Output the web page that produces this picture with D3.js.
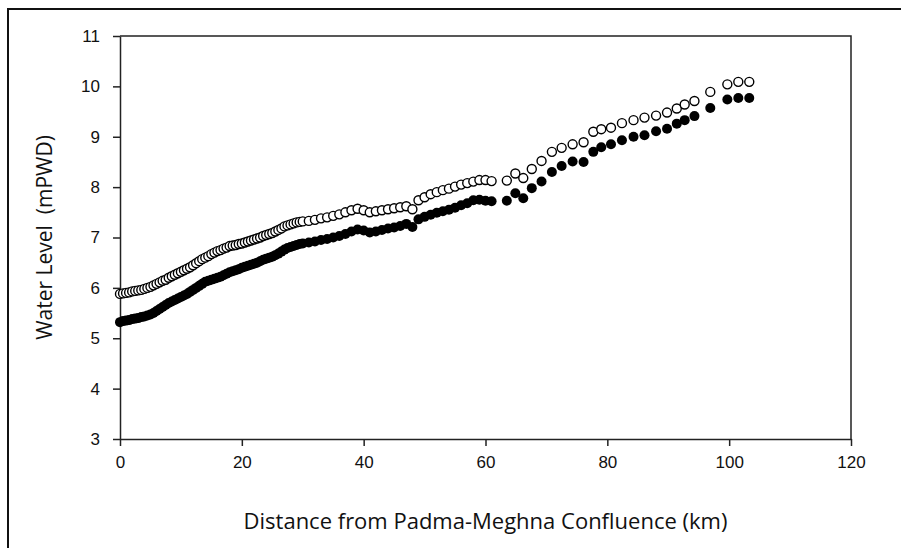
<!DOCTYPE html>
<html>
<head>
<meta charset="utf-8">
<script src="https://cdn.jsdelivr.net/npm/d3@7"></script>
<style>
  body { margin: 0; background: #fff; }
  svg { display: block; font-family: "Open Sans", "Noto Sans", sans-serif; }
  .axis path, .axis line { stroke: #222; stroke-width: 1.5px; }
  .axis text { fill: #111; font-size: 17px; }
</style>
</head>
<body>
<svg width="901" height="548"></svg>
<script>
// distance from confluence (km), dense reach 0-61 km
var denseKm = [
  0, 0.5, 1, 1.5, 2, 2.5, 3, 3.5, 4, 4.5, 5, 5.5, 6, 6.5, 7, 7.5, 8, 8.5, 9, 9.5,
  10, 10.5, 11, 11.5, 12, 12.5, 13, 13.5, 14, 14.5, 15, 15.5, 16, 16.5, 17, 17.5, 18, 18.5, 19, 19.5,
  20, 20.5, 21, 21.5, 22, 22.5, 23, 23.5, 24, 24.5, 25, 25.5, 26, 26.5, 27, 27.5, 28, 28.5, 29, 29.5,
  30, 31, 32, 33, 34, 35, 36, 37, 38, 39, 40, 41, 42, 43, 44, 45, 46, 47, 48, 49,
  50, 51, 52, 53, 54, 55, 56, 57, 58, 59, 60, 61
];
var denseOpen = [
  5.88, 5.89, 5.90, 5.91, 5.93, 5.94, 5.95, 5.96, 5.98, 6.00, 6.02, 6.05, 6.08, 6.11, 6.14, 6.16, 6.20, 6.23, 6.26, 6.29,
  6.32, 6.35, 6.38, 6.41, 6.45, 6.49, 6.53, 6.57, 6.60, 6.63, 6.67, 6.70, 6.73, 6.75, 6.78, 6.80, 6.83, 6.84, 6.85, 6.87,
  6.88, 6.90, 6.92, 6.94, 6.96, 6.98, 7.00, 7.03, 7.05, 7.07, 7.09, 7.12, 7.15, 7.18, 7.22, 7.24, 7.26, 7.28, 7.30, 7.31,
  7.32, 7.33, 7.35, 7.38, 7.40, 7.43, 7.46, 7.50, 7.54, 7.57, 7.54, 7.50, 7.52, 7.54, 7.56, 7.58, 7.60, 7.62, 7.56, 7.74,
  7.80, 7.86, 7.90, 7.94, 7.97, 8.01, 8.05, 8.08, 8.11, 8.14, 8.14, 8.12
];
var denseFilled = [
  5.32, 5.34, 5.35, 5.36, 5.38, 5.39, 5.40, 5.42, 5.43, 5.45, 5.47, 5.50, 5.54, 5.58, 5.62, 5.66, 5.70, 5.73, 5.76, 5.79,
  5.82, 5.85, 5.88, 5.92, 5.96, 6.00, 6.04, 6.08, 6.12, 6.14, 6.16, 6.18, 6.20, 6.22, 6.25, 6.28, 6.31, 6.33, 6.35, 6.37,
  6.40, 6.42, 6.44, 6.46, 6.48, 6.50, 6.53, 6.56, 6.58, 6.60, 6.62, 6.65, 6.68, 6.72, 6.76, 6.79, 6.81, 6.83, 6.85, 6.87,
  6.88, 6.90, 6.92, 6.95, 6.97, 7.00, 7.03, 7.07, 7.12, 7.16, 7.14, 7.10, 7.12, 7.15, 7.18, 7.20, 7.23, 7.27, 7.21, 7.36,
  7.41, 7.45, 7.49, 7.52, 7.55, 7.59, 7.64, 7.68, 7.74, 7.75, 7.73, 7.72
];

// sparse reach 63-104 km
var sparseKm = [63.5, 64.9, 66.2, 67.6, 69.2, 70.9, 72.5, 74.3, 76.1, 77.7, 79.0, 80.6,
  82.4, 84.3, 86.1, 88.0, 89.8, 91.4, 92.7, 94.3, 96.9, 99.7, 101.5, 103.3];
var sparseOpen = [8.13, 8.27, 8.18, 8.36, 8.52, 8.70, 8.78, 8.85, 8.89, 9.10, 9.15, 9.18,
  9.27, 9.33, 9.38, 9.42, 9.48, 9.56, 9.64, 9.71, 9.89, 10.04, 10.09, 10.09];
var sparseFilled = [7.73, 7.88, 7.78, 7.98, 8.11, 8.30, 8.42, 8.51, 8.50, 8.70, 8.79, 8.85,
  8.93, 9.00, 9.03, 9.11, 9.16, 9.26, 9.33, 9.41, 9.57, 9.74, 9.77, 9.77];

var xTicks = [0, 20, 40, 60, 80, 100, 120];
var yTicks = [3, 4, 5, 6, 7, 8, 9, 10, 11];

var xLabel = "Distance from Padma-Meghna Confluence (km)";
var yLabel = "Water Level  (mPWD)";

function toPoints(km, vals) {
  var pts = [];
  for (var i = 0; i < km.length; i++) {
    pts.push({ x: km[i], y: vals[i] });
  }
  return pts;
}

var openPts = toPoints(denseKm, denseOpen).concat(toPoints(sparseKm, sparseOpen));
var filledPts = toPoints(denseKm, denseFilled).concat(toPoints(sparseKm, sparseFilled));

var svg = d3.select("svg");
// note: "top" is a read-only global in browsers, so use plotTop etc.
var plotLeft = 120, plotRight = 851, plotTop = 36, plotBottom = 439;

var x = d3.scaleLinear().domain([0, 120]).range([plotLeft, plotRight]);
var y = d3.scaleLinear().domain([3, 11]).range([plotBottom, plotTop]);

// outer chart frame (only top and left edges show in the crop)
svg.append("path")
    .attr("d", "M8,548V9H901")
    .attr("fill", "none")
    .attr("stroke", "#111")
    .attr("stroke-width", 2);

// plot area frame top/right
svg.append("path")
    .attr("d", "M" + plotLeft + "," + plotTop + "H" + plotRight + "V" + plotBottom)
    .attr("fill", "none")
    .attr("stroke", "#222")
    .attr("stroke-width", 1.5);

svg.append("g")
    .attr("class", "axis")
    .attr("transform", "translate(0," + plotBottom + ")")
    .call(d3.axisBottom(x).tickValues(xTicks).tickSize(7).tickPadding(10).tickSizeOuter(0));

svg.append("g")
    .attr("class", "axis")
    .attr("transform", "translate(" + plotLeft + ",0)")
    .call(d3.axisLeft(y).tickValues(yTicks).tickSize(7).tickPadding(13).tickSizeOuter(0));

svg.append("g")
  .selectAll("circle")
  .data(filledPts)
  .enter().append("circle")
    .attr("cx", function(d) { return x(d.x); })
    .attr("cy", function(d) { return y(d.y); })
    .attr("r", 5)
    .attr("fill", "#000");

svg.append("g")
  .selectAll("circle")
  .data(openPts)
  .enter().append("circle")
    .attr("cx", function(d) { return x(d.x); })
    .attr("cy", function(d) { return y(d.y); })
    .attr("r", 4.5)
    .attr("fill", "#fff")
    .attr("stroke", "#000")
    .attr("stroke-width", 1.4);

svg.append("text")
    .attr("x", (plotLeft + plotRight) / 2)
    .attr("y", 529)
    .attr("text-anchor", "middle")
    .attr("font-size", 22)
    .attr("fill", "#111")
    .text(xLabel);

svg.append("text")
    .attr("transform", "translate(52," + ((plotTop + plotBottom) / 2) + ") rotate(-90)")
    .attr("text-anchor", "middle")
    .attr("font-size", 21)
    .attr("fill", "#111")
    .style("white-space", "pre")
    .text(yLabel);
</script>
</body>
</html>
